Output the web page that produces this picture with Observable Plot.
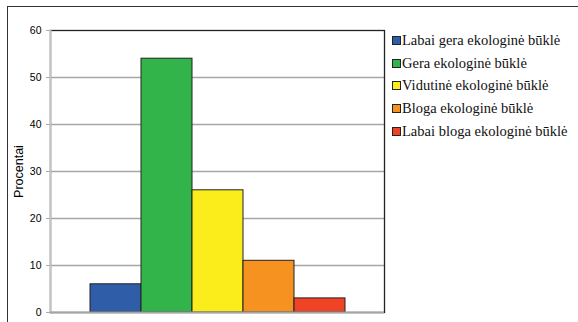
<!DOCTYPE html>
<html>
<head>
<meta charset="utf-8">
<script src="https://cdn.jsdelivr.net/npm/d3@7"></script>
<script src="https://cdn.jsdelivr.net/npm/@observablehq/plot@0.6"></script>
<style>
  html, body { margin: 0; padding: 0; background: #fff; }
  #wrap { position: relative; width: 578px; height: 322px; overflow: hidden; }
  #box { position: absolute; left: 7px; top: 6px; width: 600px; height: 400px;
         border-left: 1px solid #333; border-top: 1px solid #333; }
  #chart { position: absolute; left: 0; top: 0; }
  #legend { position: absolute; left: 392px; top: 29px;
            font-family: "Liberation Serif", "Times New Roman", serif; font-size: 14.5px; color: #111; }
  .row { height: 22.7px; display: flex; align-items: center; white-space: nowrap; }
  .sw { width: 7px; height: 7px; border: 1px solid #222; margin-right: 1px; flex: none; }
</style>
</head>
<body>
<div id="wrap">
  <div id="box"></div>
  <div id="chart"></div>
  <div id="legend"></div>
</div>
<script>
// Ecological status classes and their shares (percent)
const categories = [
  "Labai gera ekologinė būklė",
  "Gera ekologinė būklė",
  "Vidutinė ekologinė būklė",
  "Bloga ekologinė būklė",
  "Labai bloga ekologinė būklė"
];
const values = [6, 54, 26, 11, 3];
const colors = ["#2f5da8", "#33b44a", "#fbec1c", "#f6921f", "#ee4325"];
const yTicks = [0, 10, 20, 30, 40, 50, 60];
const yLabel = "Procentai";

const data = categories.map((c, i) => ({name: c, value: values[i]}));

const chart = Plot.plot({
  width: 578,
  height: 322,
  marginLeft: 50,
  marginRight: 194,
  marginTop: 30,
  marginBottom: 10,
  style: {fontFamily: "'Liberation Sans', Arial, sans-serif", background: "transparent"},
  x: {domain: categories, paddingInner: 0, paddingOuter: 0.76, axis: null},
  y: {domain: [0, 60]},
  color: {domain: categories, range: colors},
  marks: [
    Plot.gridY(yTicks.filter(d => d > 0 && d < 60), {stroke: "#a6a6a6", strokeOpacity: 1, strokeWidth: 1.3}),
    Plot.frame({stroke: "#222", strokeWidth: 1.3}),
    Plot.frame({anchor: "left", stroke: "#c4c4c4", strokeWidth: 2}),
    Plot.barY(data, {x: "name", y: "value", fill: "name", stroke: "#222", strokeWidth: 1}),
    Plot.ruleY([0], {stroke: "#a6a6a6", strokeWidth: 2}),
    Plot.axisY(yTicks, {
      tickSize: 4, tickPadding: 5, fontSize: 10.5, stroke: "#aaa",
      label: yLabel, labelAnchor: "center", labelOffset: 36, labelArrow: "none"
    })
  ]
});
document.getElementById("chart").appendChild(chart);
chart.querySelectorAll("[aria-label='y-axis label'] text, [aria-label='y-axis label']").forEach(el => {
  el.setAttribute("font-size", "12.5");
});

// Legend
const legend = document.getElementById("legend");
categories.forEach((c, i) => {
  const row = document.createElement("div");
  row.className = "row";
  const sw = document.createElement("span");
  sw.className = "sw";
  sw.style.background = colors[i];
  const t = document.createElement("span");
  t.textContent = c;
  row.appendChild(sw);
  row.appendChild(t);
  legend.appendChild(row);
});
</script>
</body>
</html>
